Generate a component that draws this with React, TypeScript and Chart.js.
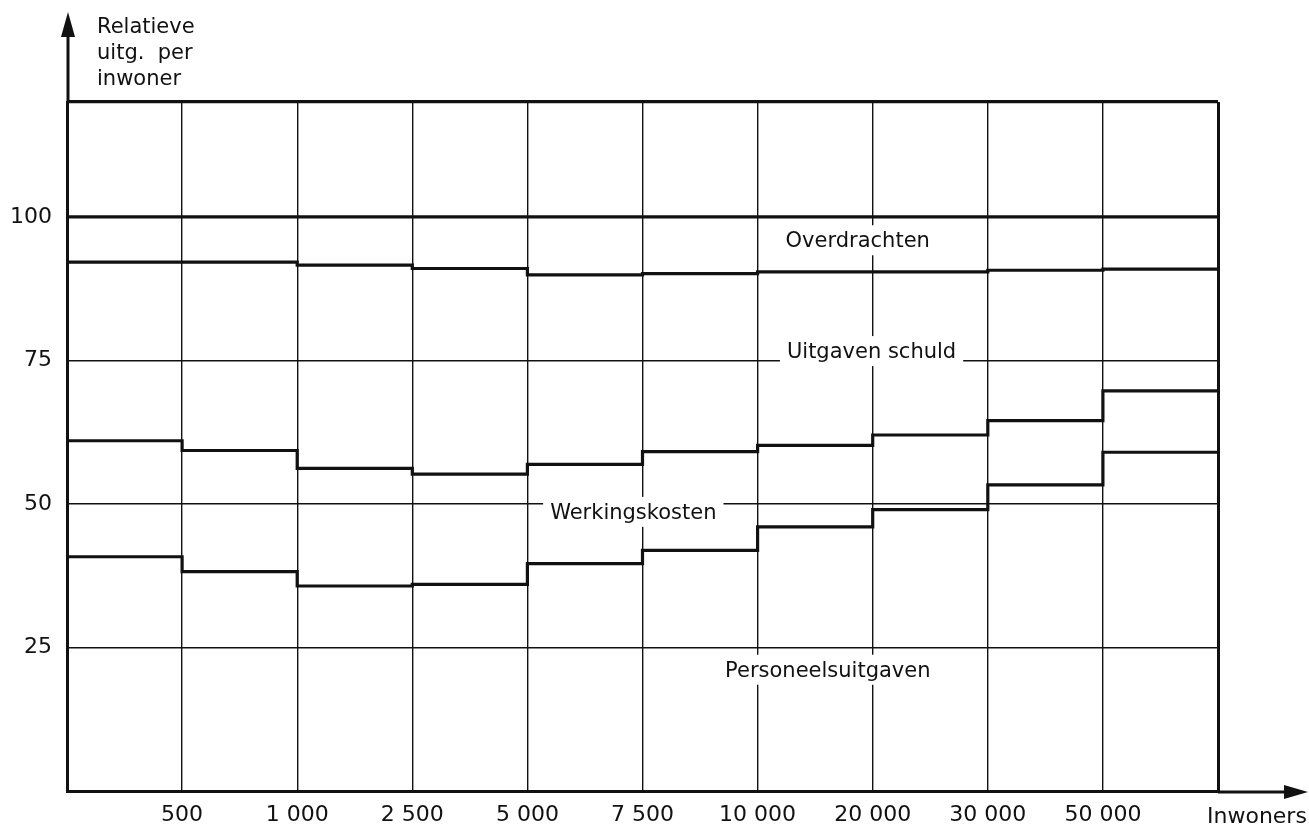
import React, { useEffect, useRef } from "react";
import { Chart, registerables } from "chart.js";

Chart.register(...registerables);

// Gemeentegrootteklassen (inwoners)
const sizeClasses = [
  "< 500",
  "500 - 1 000",
  "1 000 - 2 500",
  "2 500 - 5 000",
  "5 000 - 7 500",
  "7 500 - 10 000",
  "10 000 - 20 000",
  "20 000 - 30 000",
  "30 000 - 50 000",
  "> 50 000",
];
const xTickLabels = ["500", "1 000", "2 500", "5 000", "7 500", "10 000", "20 000", "30 000", "50 000"];
const yTickLabels = [25, 50, 75, 100];

// Cumulative top of each band (relative spending per inhabitant, total = 100)
const overdrachtenTop = [100, 100, 100, 100, 100, 100, 100, 100, 100, 100];
const schuldTop = [92.1, 92.1, 91.6, 91.0, 89.9, 90.1, 90.4, 90.4, 90.7, 90.9];
const werkingTop = [61.0, 59.3, 56.2, 55.2, 56.9, 59.1, 60.2, 62.0, 64.5, 69.7];
const personeelTop = [40.8, 38.2, 35.7, 36.0, 39.6, 41.9, 46.0, 49.0, 53.3, 59.0];

const bandNames = ["Overdrachten", "Uitgaven schuld", "Werkingskosten", "Personeelsuitgaven"];
// label anchors: [x in class units (center), y value (baseline)]
const bandLabelAnchors = [
  [6.87, 94.7],
  [6.99, 75.4],
  [4.92, 47.4],
  [6.61, 19.9],
];

const INK = "#111111";
const FONT = "'DejaVu Sans', 'Liberation Sans', sans-serif";

function toSteps(values: number[]) {
  const pts = values.map((v, i) => ({ x: i, y: v }));
  pts.push({ x: values.length, y: values[values.length - 1] });
  return pts;
}

const decorPlugin = {
  id: "decor",
  afterDatasetsDraw(chart: any) {
    const { ctx, scales } = chart;
    const xs = scales.x;
    const ys = scales.y;
    ctx.save();
    ctx.font = `21px ${FONT}`;
    ctx.textBaseline = "alphabetic";
    ctx.textAlign = "center";
    bandNames.forEach((name, i) => {
      const [xv, yv] = bandLabelAnchors[i];
      const cx = xs.getPixelForValue(xv);
      const by = ys.getPixelForValue(yv);
      const w = ctx.measureText(name).width;
      ctx.fillStyle = "#ffffff";
      ctx.fillRect(cx - w / 2 - 7, by - 22, w + 14, 30);
      ctx.fillStyle = INK;
      ctx.fillText(name, cx, by);
    });
    ctx.restore();
  },
  afterDraw(chart: any) {
    const { ctx, chartArea } = chart;
    const { left, right, top, bottom } = chartArea;
    ctx.save();
    ctx.strokeStyle = INK;
    ctx.fillStyle = INK;
    ctx.lineWidth = 3;
    // y axis arrow
    ctx.beginPath();
    ctx.moveTo(left + 1, top);
    ctx.lineTo(left + 1, 30);
    ctx.stroke();
    ctx.beginPath();
    ctx.moveTo(left + 1, 12);
    ctx.lineTo(left - 6, 37);
    ctx.lineTo(left + 8, 37);
    ctx.closePath();
    ctx.fill();
    // x axis arrow
    ctx.beginPath();
    ctx.moveTo(right, bottom + 1);
    ctx.lineTo(1292, bottom + 1);
    ctx.stroke();
    ctx.beginPath();
    ctx.moveTo(1308, bottom + 1);
    ctx.lineTo(1284, bottom - 6);
    ctx.lineTo(1284, bottom + 8);
    ctx.closePath();
    ctx.fill();
    // axis titles
    ctx.font = `21px ${FONT}`;
    ctx.textAlign = "left";
    ctx.textBaseline = "alphabetic";
    ctx.fillText("Relatieve", left + 30, 33);
    ctx.fillText("uitg.  per", left + 30, 59);
    ctx.fillText("inwoner", left + 30, 85);
    ctx.font = `22px ${FONT}`;
    ctx.fillText("Inwoners", right - 11, 823);
    ctx.restore();
  },
};

export default function App() {
  const ref = useRef<HTMLCanvasElement | null>(null);
  useEffect(() => {
    if (!ref.current) return;
    const ds = (label: string, values: number[]) => ({
      label,
      data: toSteps(values),
      stepped: "before" as const,
      borderColor: INK,
      borderWidth: 3.2,
      pointRadius: 0,
      fill: false,
    });
    const chart = new Chart(ref.current, {
      type: "line",
      data: {
        datasets: [
          ds("Totaal", overdrachtenTop),
          ds("Overdrachten / Uitgaven schuld", schuldTop),
          ds("Uitgaven schuld / Werkingskosten", werkingTop),
          ds("Werkingskosten / Personeelsuitgaven", personeelTop),
        ],
      },
      options: {
        animation: false,
        responsive: false,
        maintainAspectRatio: false,
        layout: { padding: { top: 102, right: 91, left: 0, bottom: 0 } },
        plugins: {
          legend: { display: false },
          tooltip: { enabled: false },
        },
        scales: {
          x: {
            type: "linear",
            min: 0,
            max: sizeClasses.length,
            afterFit: (s: any) => {
              s.height = 40;
            },
            ticks: {
              stepSize: 1,
              autoSkip: false,
              maxRotation: 0,
              padding: 11,
              color: INK,
              font: { family: FONT, size: 22 },
              callback: (v: any) => {
                const i = Number(v);
                return i >= 1 && i <= xTickLabels.length ? xTickLabels[i - 1] : "";
              },
            },
            grid: {
              drawTicks: false,
              color: INK,
              lineWidth: (c: any) => (c.tick && (c.tick.value === 0 || c.tick.value === sizeClasses.length) ? 3 : 1.4),
            },
            border: { display: true, color: INK, width: 3 },
          },
          y: {
            type: "linear",
            min: 0,
            max: 120,
            afterFit: (s: any) => {
              s.width = 67;
            },
            ticks: {
              stepSize: 25,
              padding: 15,
              color: INK,
              font: { family: FONT, size: 22 },
              callback: (v: any) => (yTickLabels.includes(Number(v)) ? String(v) : ""),
            },
            grid: {
              drawTicks: false,
              color: INK,
              lineWidth: (c: any) => (c.tick && c.tick.value === 120 ? 3.2 : 1.4),
            },
            border: { display: true, color: INK, width: 3 },
          },
        },
      },
      plugins: [decorPlugin],
    });
    return () => chart.destroy();
  }, []);
  return (
    <div style={{ position: "fixed", left: 0, top: 0, width: 1309, height: 831, background: "#fff" }}>
      <canvas ref={ref} width={1309} height={831} style={{ width: 1309, height: 831, display: "block" }} />
    </div>
  );
}
